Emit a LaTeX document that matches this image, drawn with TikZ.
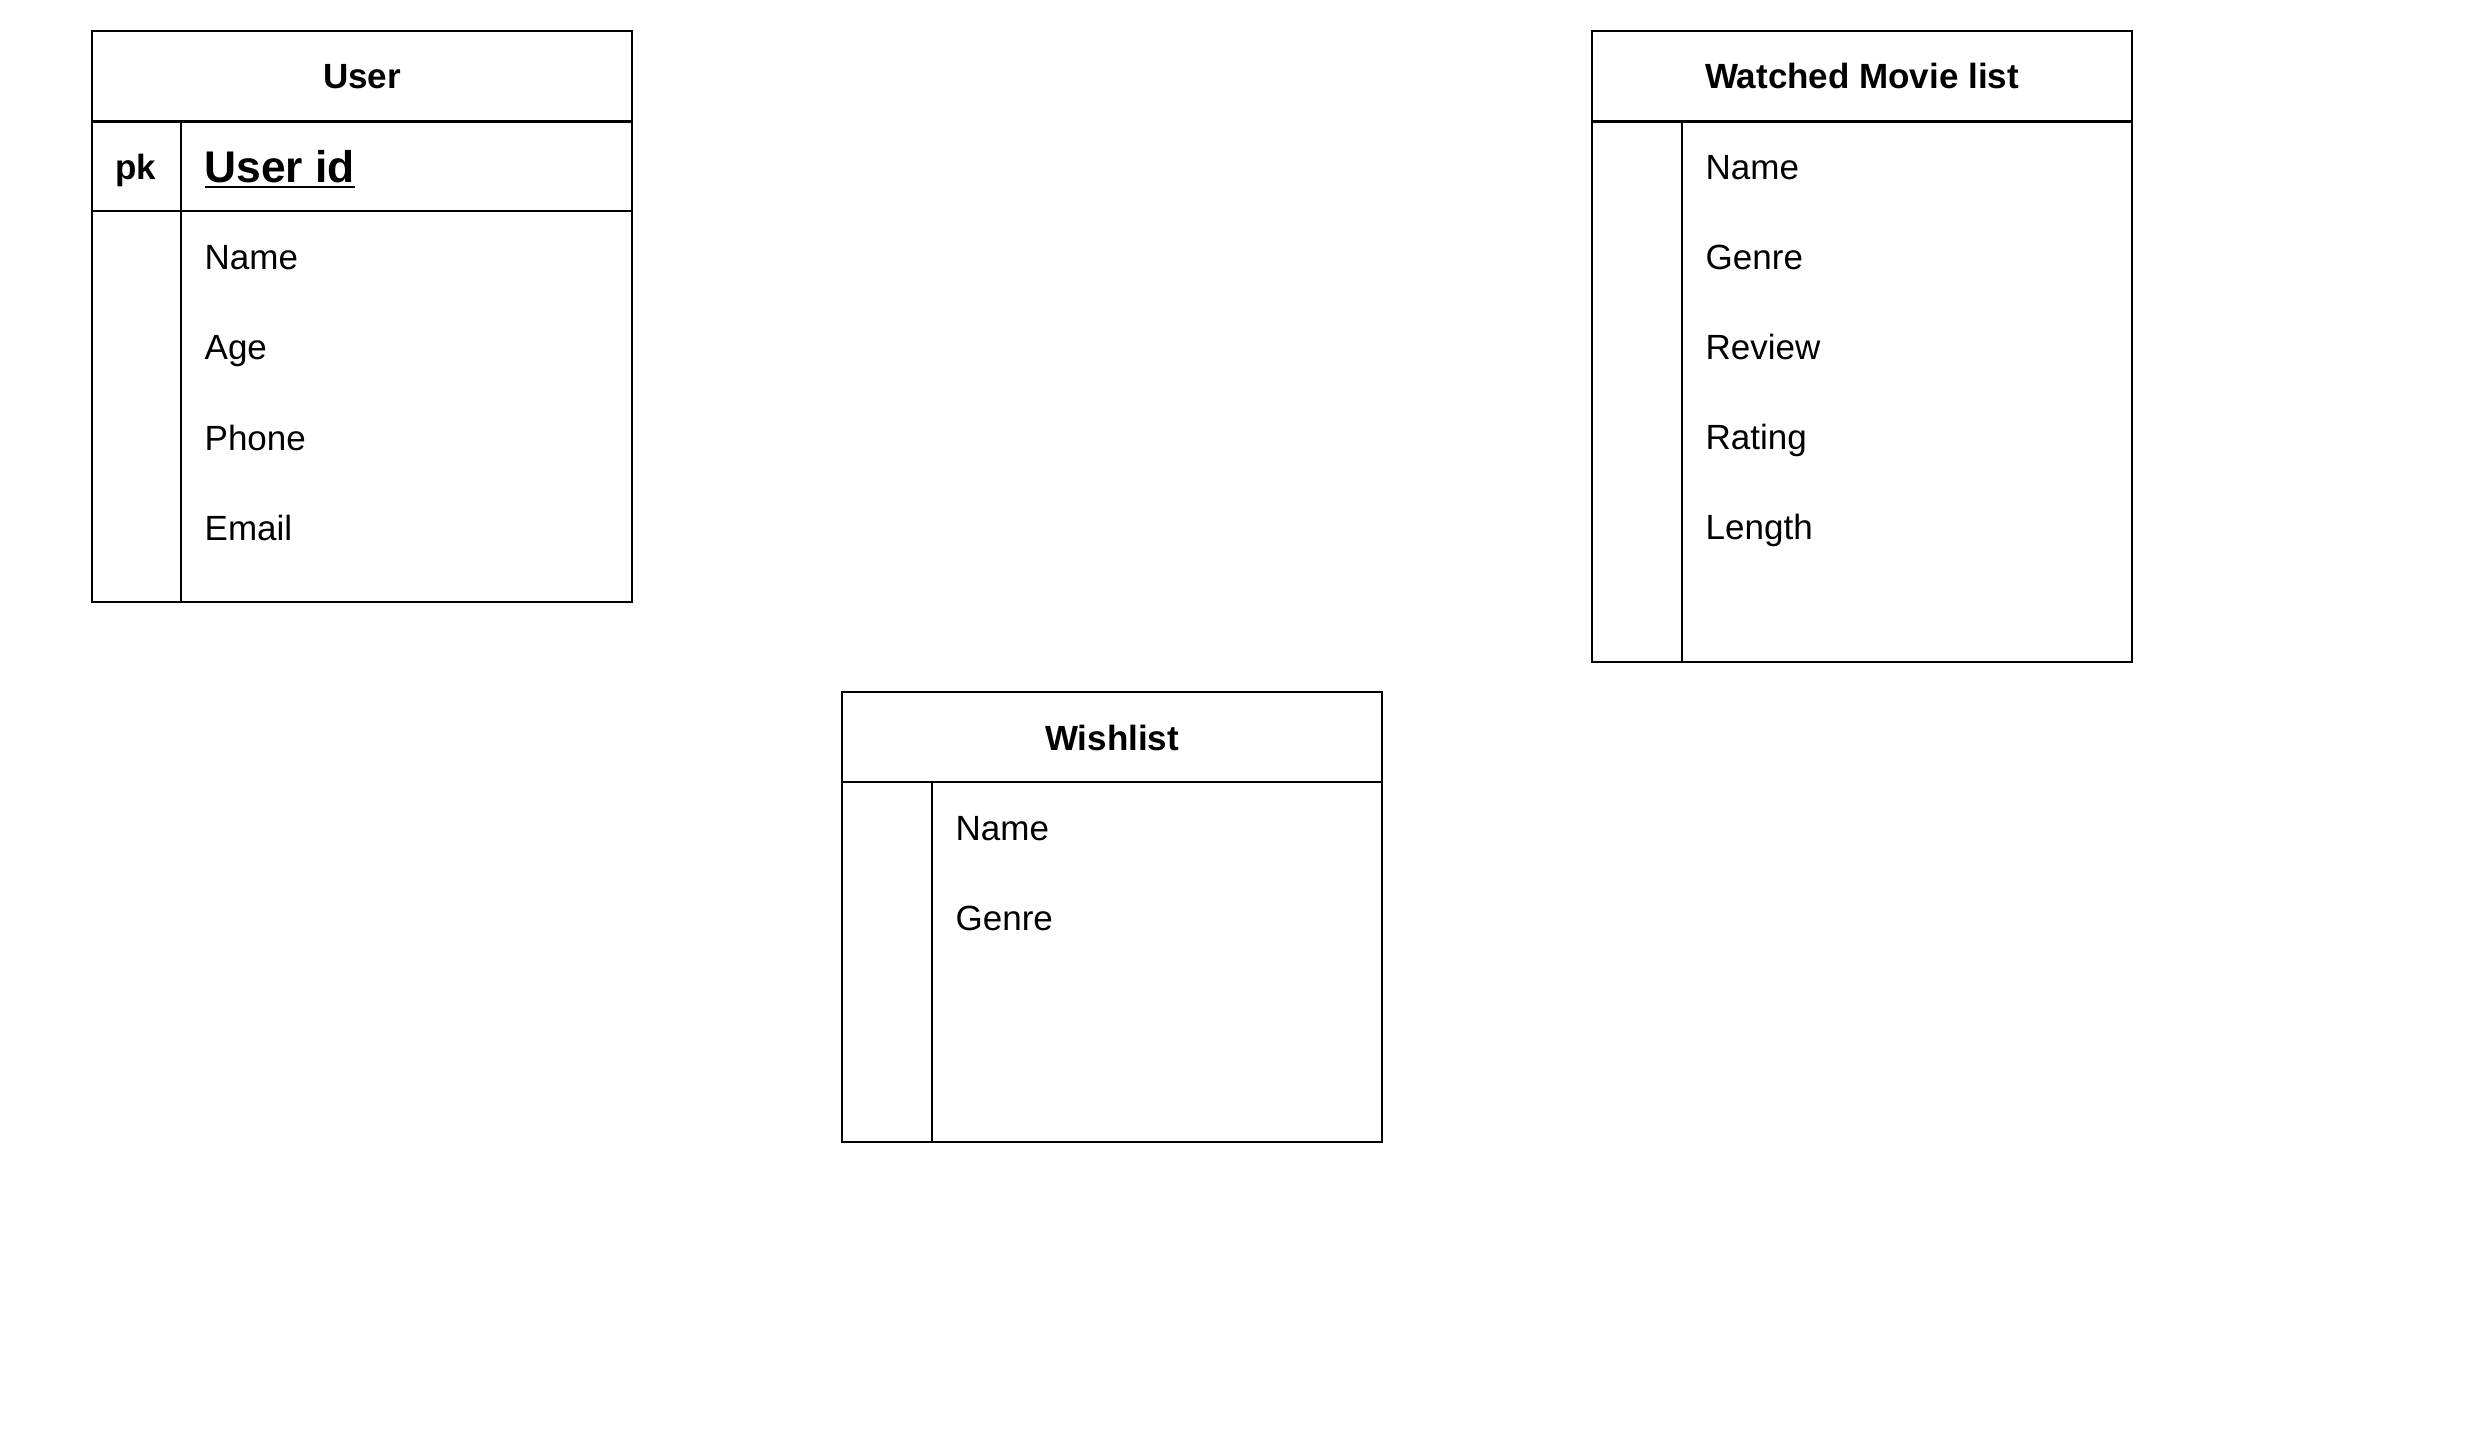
\documentclass[tikz,border=0pt]{standalone}
\usepackage{fontspec}
\setmainfont{Liberation Sans}
\begin{document}
\begin{tikzpicture}[x=0.3pt,y=-0.3pt,
  tbl/.style={draw=black, line width=0.75pt, inner sep=0pt, outer sep=0pt, minimum width=162pt, anchor=north west},
  sep/.style={line width=0.75pt},
  title/.style={anchor=base, inner sep=0pt, font=\fontsize{10.5pt}{12pt}\selectfont\bfseries},
  field/.style={anchor=base west, inner sep=0pt, font=\fontsize{10.5pt}{12pt}\selectfont},
  keyfield/.style={anchor=base west, inner sep=0pt, font=\fontsize{13.3pt}{15pt}\selectfont\bfseries},
  pklabel/.style={anchor=base, inner sep=0pt, font=\fontsize{10.5pt}{12pt}\selectfont\bfseries}]
\useasboundingbox (0,0) rectangle (2483,1433);
% User table
\node[tbl, minimum height=171.3pt] (user) at (92,31) {};
\draw[sep] (92,121.5) -- (632,121.5);
\draw[sep] (92,211) -- (632,211);
\draw[sep] (181,121.5) -- (181,602);
\node[title] (usertitle) at (362,88) {User};
\node[pklabel] (pk) at (136,179) {pk};
\node[keyfield] (userid) at (204,182) {\underline{User id}};
\node[field] (uname) at (204,269) {Name};
\node[field] (uage) at (204,359) {Age};
\node[field] (uphone) at (204,450) {Phone};
\node[field] (uemail) at (204,540) {Email};
% Watched Movie list table
\node[tbl, minimum height=189.3pt] (watched) at (1592,31) {};
\draw[sep] (1592,121.5) -- (2132,121.5);
\draw[sep] (1682,121.5) -- (1682,662);
\node[title] (wtitle) at (1862,88) {Watched Movie list};
\node[field] (wname) at (1705,179) {Name};
\node[field] (wgenre) at (1705,269) {Genre};
\node[field] (wreview) at (1705,359) {Review};
\node[field] (wrating) at (1705,449) {Rating};
\node[field] (wlength) at (1705,539) {Length};
% Wishlist table
\node[tbl, minimum height=135pt] (wish) at (842,692) {};
\draw[sep] (842,782) -- (1382,782);
\draw[sep] (932,782) -- (932,1142);
\node[title] (wltitle) at (1112,750) {Wishlist};
\node[field] (wlname) at (955,840) {Name};
\node[field] (wlgenre) at (955,930) {Genre};
\end{tikzpicture}
\end{document}
